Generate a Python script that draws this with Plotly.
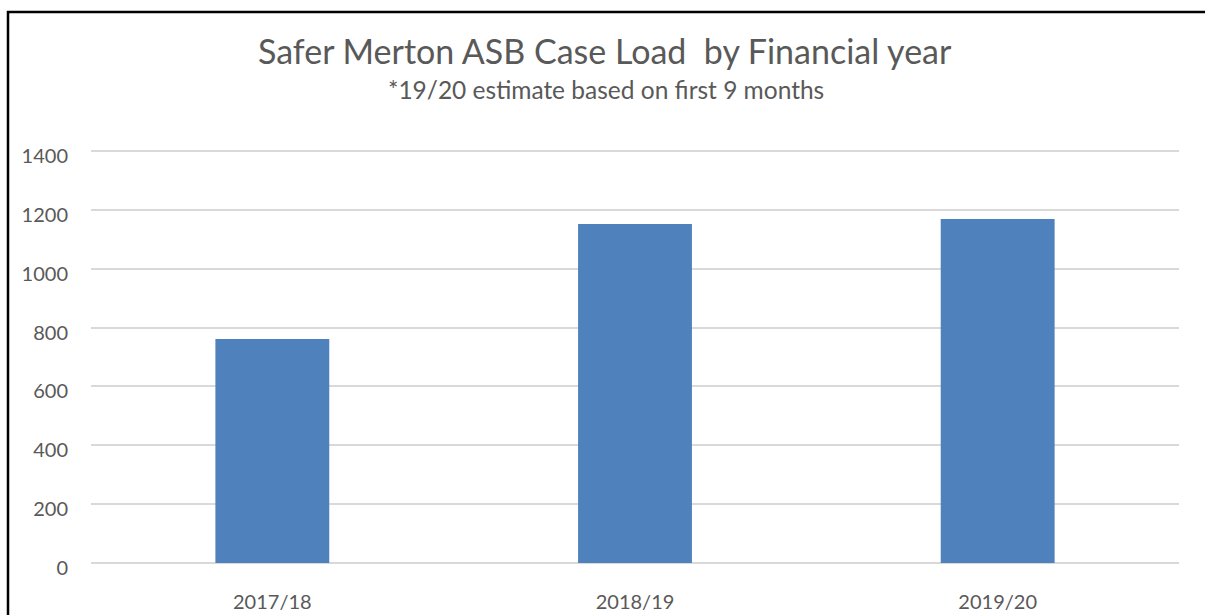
import plotly.graph_objects as go

categories = ["2017/18", "2018/19", "2019/20"]
case_load = [761, 1152, 1169]
y_ticks = [0, 200, 400, 600, 800, 1000, 1200, 1400]

title_text = "Safer Merton ASB Case Load  by Financial year"
subtitle_text = "*19/20 estimate based on first 9 months"

FONT = "Lato, 'Open Sans', sans-serif"
TXT = "#595959"

# plot-area pixel geometry (page coords)
L, R, T, B = 91, 1179, 148, 563
PW, PH = R - L, B - T

def px_x(x):
    return (x - L) / PW

def px_y(y):
    return (B - y) / PH

fig = go.Figure()
fig.add_trace(go.Bar(
    x=categories, y=case_load,
    marker=dict(color="#4f81bd", line=dict(width=0)),
    width=0.314,
))

fig.update_layout(
    width=1205, height=615,
    margin=dict(l=L, r=1205 - R, t=T, b=615 - B, autoexpand=False),
    paper_bgcolor="white", plot_bgcolor="white",
    showlegend=False,
    font=dict(family=FONT, color=TXT),
    xaxis=dict(showgrid=False, showline=False, ticks="",
               ticklabelstandoff=25,
               tickfont=dict(size=20, color=TXT, family=FONT)),
    yaxis=dict(range=[0, 1410], tickvals=y_ticks, showgrid=True,
               gridcolor="#d9d9d9", gridwidth=1.5,
               zeroline=True, zerolinecolor="#d9d9d9", zerolinewidth=1.5,
               showline=False, ticks="", ticklabelstandoff=22,
               ticklabelshift=5,
               tickfont=dict(size=20, color=TXT, family=FONT)),
)

fig.add_annotation(text=title_text, xref="paper", yref="paper",
                   x=px_x(605), y=px_y(51),
                   xanchor="center", yanchor="middle", showarrow=False,
                   font=dict(size=34, color=TXT, family=FONT))
fig.add_annotation(text=subtitle_text, xref="paper", yref="paper",
                   x=px_x(606), y=px_y(90),
                   xanchor="center", yanchor="middle", showarrow=False,
                   font=dict(size=24.5, color=TXT, family=FONT))

# outer chart frame
fig.add_shape(type="rect", xref="paper", yref="paper",
              x0=px_x(8), x1=px_x(1215),
              y0=px_y(630), y1=px_y(12),
              line=dict(color="black", width=2.5), fillcolor="rgba(0,0,0,0)",
              layer="above")

fig.write_html("out.html", config={"displayModeBar": False},
               post_script="document.body.style.margin='0';")
